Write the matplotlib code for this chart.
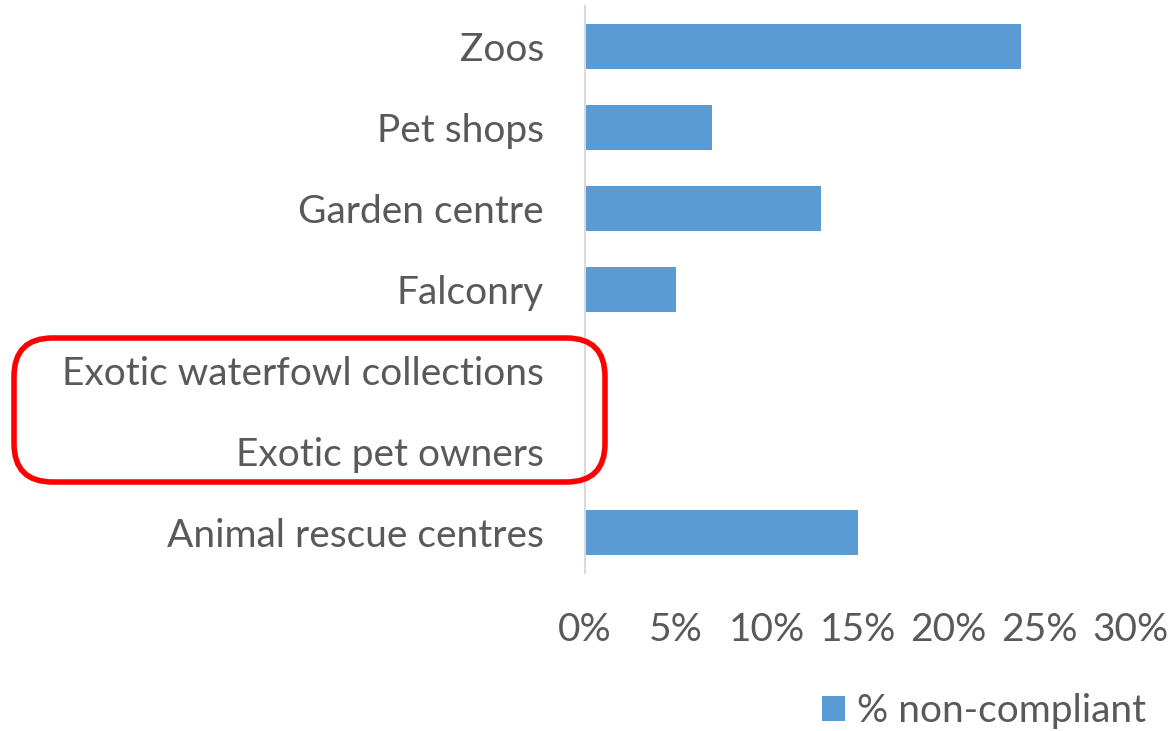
import matplotlib
matplotlib.use("Agg")
import matplotlib.pyplot as plt
from matplotlib.patches import FancyBboxPatch
from matplotlib.ticker import FuncFormatter

categories = ["Zoos", "Pet shops", "Garden centre", "Falconry",
              "Exotic waterfowl collections", "Exotic pet owners",
              "Animal rescue centres"]
values = [0.24, 0.07, 0.13, 0.05, 0.0, 0.0, 0.15]
xticks = [0, 0.05, 0.10, 0.15, 0.20, 0.25, 0.30]
series_name = "% non-compliant"

plt.rcParams['font.family'] = ['Lato', 'DejaVu Sans']
text_color = "#595959"
bar_color = "#5B9BD5"
fs = 28

W, H = 1169, 731
fig = plt.figure(figsize=(W / 100, H / 100), dpi=100)
ax = fig.add_axes([585 / W, 1 - 573 / H, (1130 - 585) / W, (573 - 6) / H])

y = list(range(len(categories)))
ax.barh(y, values, height=0.567, color=bar_color, label=series_name)
ax.set_ylim(len(categories) - 0.5, -0.5)
ax.set_xlim(0, 0.30)
ax.set_xticks(xticks)
ax.xaxis.set_major_formatter(FuncFormatter(lambda v, p: f"{v*100:.0f}%"))
ax.set_yticks(y)
ax.set_yticklabels(categories)
ax.tick_params(axis='both', length=0, labelsize=fs, colors=text_color)
ax.tick_params(axis='y', pad=29.5)
ax.tick_params(axis='x', pad=28)
for s in ['top', 'right', 'bottom']:
    ax.spines[s].set_visible(False)
ax.spines['left'].set_color("#D9D9D9")
ax.spines['left'].set_linewidth(1.5)

leg = fig.legend(loc='center left', bbox_to_anchor=(806 / W, 1 - 711 / H),
                 frameon=False, fontsize=fs, handlelength=0.6, handleheight=0.6,
                 handletextpad=0.3, borderaxespad=0)
for t in leg.get_texts():
    t.set_color(text_color)

# red rounded highlight box
box = FancyBboxPatch((14 / W, 1 - 482 / H), (605 - 14) / W, (482 - 338) / H,
                     boxstyle="round,pad=0,rounding_size=0.033",
                     transform=fig.transFigure, fill=False,
                     edgecolor="#FF0000", linewidth=4, mutation_aspect=W / H)
fig.patches.append(box)

fig.savefig("out.png", dpi=100)
